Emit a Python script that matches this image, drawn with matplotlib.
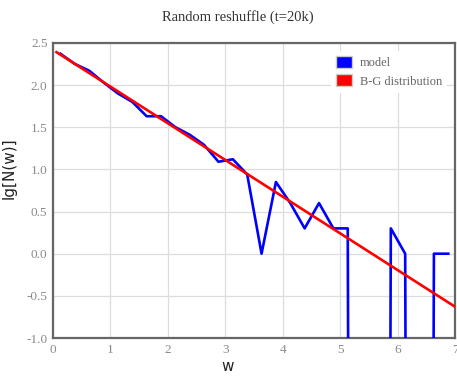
import numpy as np
import matplotlib
matplotlib.use("Agg")
import matplotlib.pyplot as plt
from matplotlib.patches import Patch

# 数据: w 分箱中心, 模型 lg[N(w)] (lg0 记为很大的负数), B-G 分布直线两端
w = [0.13, 0.38, 0.63, 0.88, 1.13, 1.38, 1.63, 1.88, 2.13, 2.38,
     2.63, 2.88, 3.13, 3.38, 3.63, 3.88, 4.13, 4.38, 4.63, 4.88,
     5.13, 5.38, 5.63, 5.88, 6.13, 6.38, 6.63, 6.88]
LG0 = -50.0
model = [2.37, 2.25, 2.17, 2.03, 1.90, 1.80, 1.63, 1.63, 1.50, 1.41,
         1.29, 1.09, 1.12, 0.94, 0.0, 0.85, 0.60, 0.30, 0.60, 0.30,
         0.30, LG0, LG0, 0.30, 0.0, LG0, 0.0, 0.0]
bg_w = [0.06, 7.0]
bg_lg = [2.39, -0.63]

xticks = [0, 1, 2, 3, 4, 5, 6, 7]
yticks = [-1.0, -0.5, 0.0, 0.5, 1.0, 1.5, 2.0, 2.5]

fig = plt.figure(figsize=(4.57, 3.76), dpi=100)
ax = fig.add_axes([0.116, 0.101, 0.88, 0.785])
ax.plot(w, model, color="#0000ff", lw=1.9, zorder=3)
ax.plot(bg_w, bg_lg, color="#ff0000", lw=1.9, zorder=4)

ax.set_xlim(0, 7); ax.set_ylim(-1.0, 2.5)
ax.set_xticks(xticks); ax.set_yticks(yticks)
ax.set_xticklabels([str(t) for t in xticks])
ax.set_yticklabels([f"{t:.1f}" for t in yticks])
for lab in ax.get_xticklabels() + ax.get_yticklabels():
    lab.set_fontfamily("Liberation Serif"); lab.set_fontsize(9.5); lab.set_color("#8a8a8a")
ax.tick_params(length=0, pad=4)
ax.grid(color="#dddddd", lw=0.9)
ax.set_axisbelow(True)
for s in ax.spines.values():
    s.set_color("#666666"); s.set_linewidth(1.6)

ax.set_title("Random reshuffle (t=20k)", family="Liberation Serif", fontsize=10.5,
             color="#333333", pad=16, x=0.46)
ax.set_xlabel("w", fontsize=11, color="#222222")
ax.set_ylabel("lg[N(w)]", fontsize=11, color="#222222")
ax.xaxis.set_label_coords(0.433, -0.07)
ax.yaxis.set_label_coords(-0.09, 0.576)

handles = [Patch(facecolor="#0000ff", edgecolor="#cccccc", label="model"),
           Patch(facecolor="#ff0000", edgecolor="#cccccc", label="B-G distribution")]
leg = ax.legend(handles=handles, loc="upper right", bbox_to_anchor=(0.995, 0.995),
                prop={"family": "Liberation Serif", "size": 9}, frameon=True,
                fancybox=False, edgecolor="none", facecolor="white", framealpha=1,
                handlelength=1.3, handleheight=1.1, handletextpad=0.6, labelspacing=0.45,
                borderpad=0.4)
for t in leg.get_texts():
    t.set_color("#666666")

plt.savefig("out.png", dpi=100)
